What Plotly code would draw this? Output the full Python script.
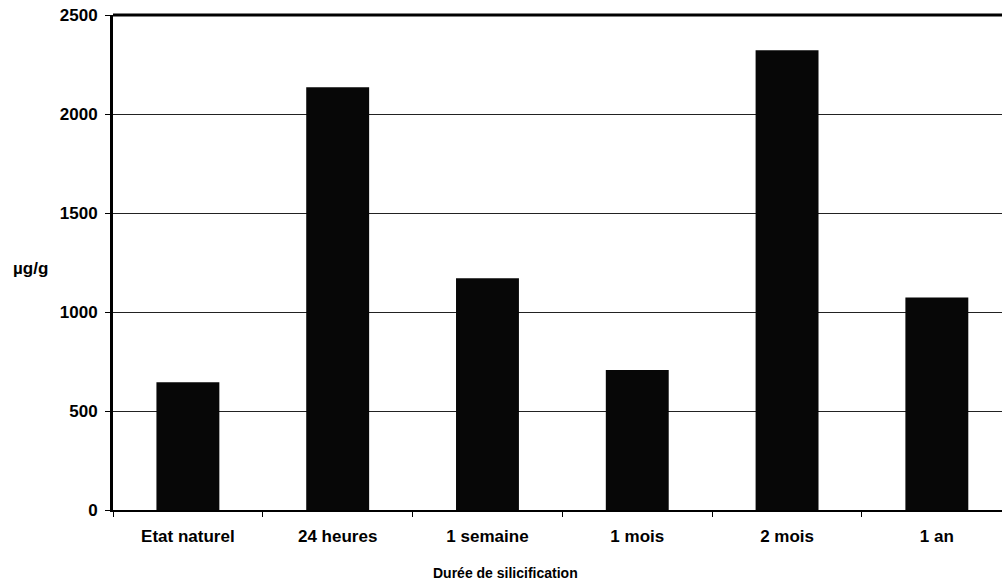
import plotly.graph_objects as go

categories = ["Etat naturel", "24 heures", "1 semaine", "1 mois", "2 mois", "1 an"]
values = [645, 2135, 1170, 707, 2322, 1073]
y_ticks = [0, 500, 1000, 1500, 2000, 2500]

tick_font = dict(family="Liberation Sans, Arial, sans-serif", size=17, color="black", weight="bold")
title_font = dict(family="Liberation Sans, Arial, sans-serif", size=14, color="black", weight="bold")

fig = go.Figure()
fig.add_trace(go.Bar(x=categories, y=values, marker=dict(color="#070707", line=dict(width=0)),
                     width=0.42))

W, H = 1002, 585
L, T, B = 113, 15, 75
PW, PH = W - L, H - T - B

fig.update_layout(
    width=W, height=H,
    margin=dict(l=L, r=0, t=T, b=B, autoexpand=False),
    plot_bgcolor="white", paper_bgcolor="white",
    showlegend=False,
    font=tick_font,
)
fig.update_xaxes(
    type="category", range=[-0.5, 5.435],
    showline=True, linecolor="black", linewidth=2,
    ticks="outside", tickson="boundaries", ticklen=5, tickcolor="black", tickwidth=1,
    showgrid=False, tickfont=tick_font, ticklabelstandoff=10, automargin=False,
)
fig.update_yaxes(
    range=[0, 2500], tickvals=y_ticks,
    showline=True, linecolor="black", linewidth=3,
    ticks="outside", ticklen=5, tickcolor="black", tickwidth=1,
    showgrid=True, gridcolor="#222222", gridwidth=1,
    tickfont=tick_font, zeroline=False, ticklabelstandoff=4, automargin=False,
)
fig.add_shape(type="line", xref="paper", yref="paper", x0=0, x1=1, y0=1, y1=1,
              line=dict(color="black", width=3))
fig.add_annotation(text="µg/g", xref="paper", yref="paper",
                   x=(30 - L) / PW, y=(T + PH - 268) / PH, showarrow=False,
                   font=tick_font, xanchor="center", yanchor="middle")
fig.add_annotation(text="Durée de silicification", xref="paper", yref="paper",
                   x=(505 - L) / PW, y=-(573 - (T + PH)) / PH, showarrow=False,
                   font=title_font, xanchor="center", yanchor="middle")

fig.write_html("out.html", config={"displayModeBar": False},
               post_script="document.body.style.margin='0';")
